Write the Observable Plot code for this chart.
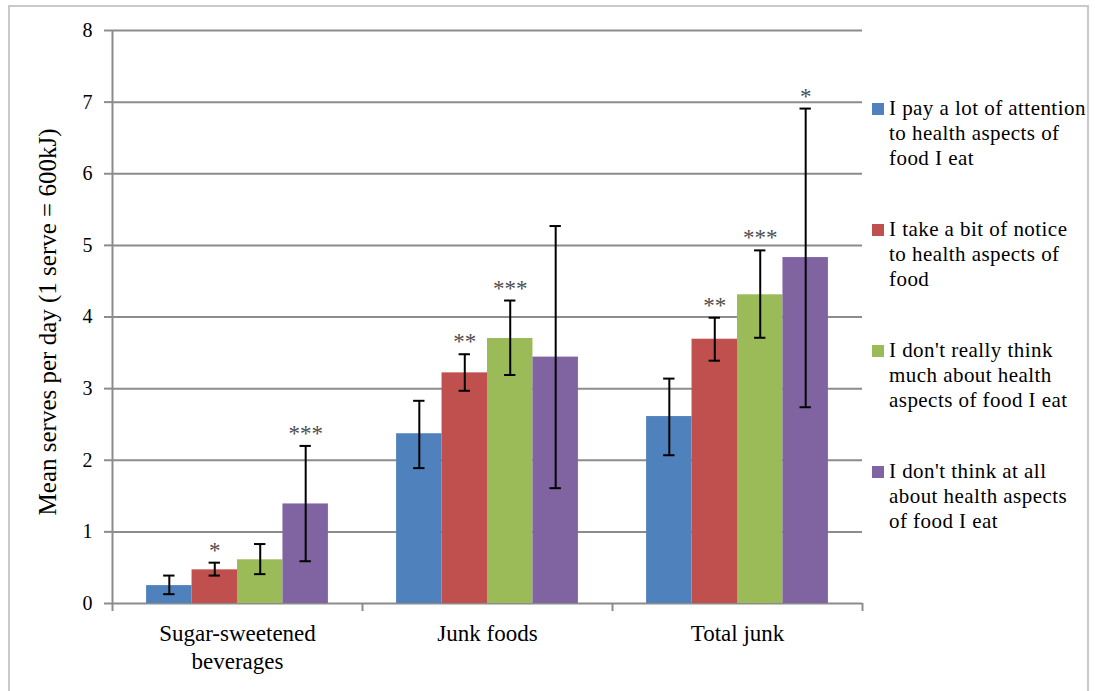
<!DOCTYPE html>
<html>
<head>
<meta charset="utf-8">
<script src="https://cdn.jsdelivr.net/npm/d3@7"></script>
<script src="https://cdn.jsdelivr.net/npm/@observablehq/plot@0.6"></script>
<style>
  html, body { margin: 0; padding: 0; background: #fff; }
  #wrap { position: relative; width: 1095px; height: 691px; overflow: hidden; font-family: "Liberation Serif", "Times New Roman", serif; }
  #frame { position: absolute; left: 8px; top: 5px; width: 1081px; height: 720px; border: 2px solid #c9c9c9; box-sizing: border-box; }
  #chart { position: absolute; left: 0; top: 0; }
  #legend { position: absolute; left: 872px; top: 96px; }
  .item { position: relative; height: 75px; margin-bottom: 46px; }
  .swatch { position: absolute; left: 0; top: 7px; width: 12px; height: 12px; }
  .label { position: absolute; left: 17px; top: 0; font-size: 21px; line-height: 25px; letter-spacing: 0.45px; white-space: pre; color: #000; }
</style>
</head>
<body>
<div id="wrap">
  <div id="frame"></div>
  <div id="chart"></div>
  <div id="legend"></div>
</div>
<script>
// Food categories on the x axis
const categories = ["Sugar-sweetened\nbeverages", "Junk foods", "Total junk"];

// Attitude groups (legend entries) and their colours
const groups = [
  "I pay a lot of attention\nto health aspects of\nfood I eat",
  "I take a bit of notice\nto health aspects of\nfood",
  "I don't really think\nmuch about health\naspects of food I eat",
  "I don't think at all\nabout health aspects\nof food I eat"
];
const colors = ["#4f81bd", "#c0504d", "#9bbb59", "#8064a2"];

// Mean serves per day, one array per group (ordered as categories)
const meanAttention = [0.25, 2.37, 2.61];
const meanNotice    = [0.47, 3.22, 3.69];
const meanNotMuch   = [0.61, 3.70, 4.31];
const meanNotAtAll  = [1.39, 3.44, 4.83];

// Error bar bounds
const lowAttention  = [0.13, 1.89, 2.07];
const highAttention = [0.39, 2.83, 3.14];
const lowNotice     = [0.39, 2.97, 3.39];
const highNotice    = [0.57, 3.48, 3.99];
const lowNotMuch    = [0.41, 3.19, 3.71];
const highNotMuch   = [0.83, 4.23, 4.93];
const lowNotAtAll   = [0.59, 1.61, 2.74];
const highNotAtAll  = [2.20, 5.27, 6.91];

// Significance markers
const sigAttention = ["", "", ""];
const sigNotice    = ["*", "**", "**"];
const sigNotMuch   = ["", "***", "***"];
const sigNotAtAll  = ["***", "", "*"];

// y axis ticks
const yTicks = [0, 1, 2, 3, 4, 5, 6, 7, 8];
const yLabel = "Mean serves per day (1 serve = 600kJ)";

const means = [meanAttention, meanNotice, meanNotMuch, meanNotAtAll];
const lows = [lowAttention, lowNotice, lowNotMuch, lowNotAtAll];
const highs = [highAttention, highNotice, highNotMuch, highNotAtAll];
const sigs = [sigAttention, sigNotice, sigNotMuch, sigNotAtAll];

const rows = [];
categories.forEach((c, ci) => {
  groups.forEach((g, gi) => {
    rows.push({ci, category: c, group: g, mean: means[gi][ci], lo: lows[gi][ci], hi: highs[gi][ci], sig: sigs[gi][ci]});
  });
});

// Each category occupies one unit on the x axis; groups are banded inside it
const inner = d3.scaleBand().domain(groups).range([0, 1]).paddingInner(0).paddingOuter(0.75);
const bw = inner.bandwidth();
const left = d => d.ci + inner(d.group);
const center = d => d.ci + inner(d.group) + bw / 2;
const capHalf = bw * 0.125;

const grey = "#8c8c8c";
const font = "'Liberation Serif', 'Times New Roman', serif";

const chart = Plot.plot({
  width: 1095,
  height: 691,
  marginLeft: 112,
  marginRight: 233,
  marginTop: 30,
  marginBottom: 88,
  style: {fontFamily: font, background: "transparent", color: "#000"},
  x: {domain: [0, categories.length], axis: null},
  y: {domain: [0, 8], axis: null},
  color: {domain: groups, range: colors},
  marks: [
    Plot.gridY(yTicks, {stroke: grey, strokeOpacity: 1, strokeWidth: 2}),
    Plot.axisY({ticks: yTicks, tickSize: 8, tickFormat: () => "", stroke: grey, strokeWidth: 2}),
    Plot.axisY({ticks: yTicks, tickSize: 0, tickPadding: 20, fontSize: 20}),
    Plot.axisX({ticks: d3.range(categories.length + 1), tickSize: 8, tickFormat: () => "", stroke: grey, strokeWidth: 2}),
    Plot.ruleX([0], {stroke: grey, strokeWidth: 2}),
    Plot.rectY(rows, {x1: left, x2: d => left(d) + bw, y1: 0, y2: "mean", fill: "group"}),
    Plot.ruleX(rows, {x: center, y1: "lo", y2: "hi", stroke: "#000", strokeWidth: 2}),
    Plot.ruleY(rows, {y: "hi", x1: d => center(d) - capHalf, x2: d => center(d) + capHalf, stroke: "#000", strokeWidth: 2}),
    Plot.ruleY(rows, {y: "lo", x1: d => center(d) - capHalf, x2: d => center(d) + capHalf, stroke: "#000", strokeWidth: 2}),
    Plot.text(rows.filter(d => d.sig), {x: center, y: "hi", text: "sig", lineAnchor: "bottom", dy: -5, fontSize: 23, fill: "#4d4d4d"}),
    Plot.text(categories, {x: (d, i) => i + 0.5, y: () => 0, text: d => d, lineAnchor: "top", dy: 18, lineHeight: 1.2, fontSize: 23}),
    Plot.text([yLabel], {frameAnchor: "left", textAnchor: "middle", lineAnchor: "middle", rotate: -90, dx: -65, dy: 5, fontSize: 25})
  ]
});
document.getElementById("chart").appendChild(chart);

// Legend built from the same groups and colours
const legend = d3.select("#legend");
groups.forEach((g, i) => {
  const item = legend.append("div").attr("class", "item");
  item.append("div").attr("class", "swatch").style("background", colors[i]);
  item.append("div").attr("class", "label").text(g);
});
</script>
</body>
</html>
